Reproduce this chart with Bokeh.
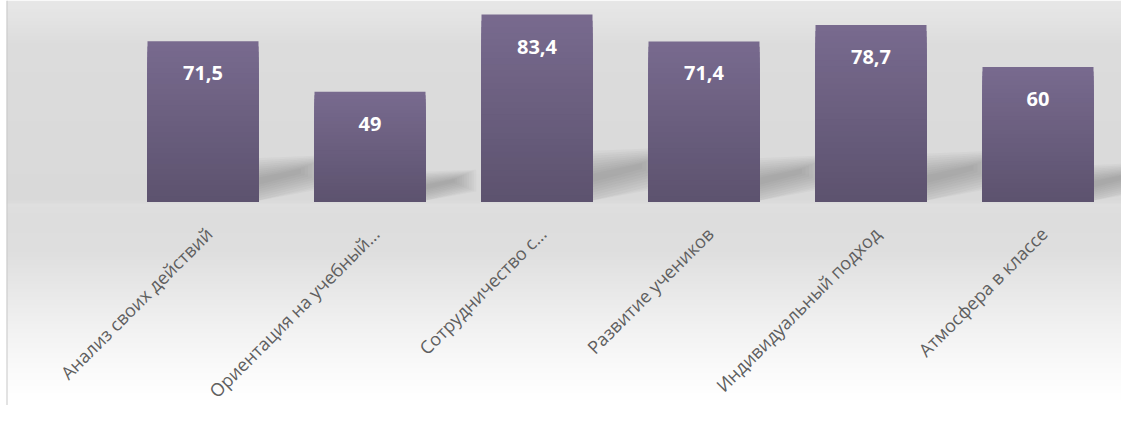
import math
import numpy as np
from bokeh.plotting import figure
from bokeh.models import Range1d, ColumnDataSource, Span
from bokeh.core.properties import value
from bokeh.embed import file_html
from bokeh.resources import INLINE

# ---- data ----
categories = ["Анализ своих действий", "Ориентация на учебный...", "Сотрудничество с...",
              "Развитие учеников", "Индивидуальный подход", "Атмосфера в классе"]
values = [71.5, 49, 83.4, 71.4, 78.7, 60]
value_labels = [f"{v:g}".replace(".", ",") for v in values]

# ---- geometry ----
W, H = 1121, 405
FRAME_LEFT = 6
PX_X = 167.0          # pixels per category
PX_Y = 2.2422         # pixels per value unit
first_center_px = 202.5 - FRAME_LEFT
baseline_px = 201
frame_w = W - FRAME_LEFT
x_start = -first_center_px / PX_X
x_end = x_start + frame_w / PX_X
y_end = baseline_px / PX_Y
y_start = -(H - baseline_px) / PX_Y

p = figure(width=W, height=H, output_backend="svg", toolbar_location=None,
           x_range=Range1d(x_start, x_end), y_range=Range1d(y_start, y_end),
           min_border=0, min_border_left=FRAME_LEFT)
p.border_fill_color = "white"
p.background_fill_color = "white"
p.outline_line_color = None
p.grid.visible = False
p.xaxis.visible = False
p.yaxis.visible = False

# ---- background gradient (styling) ----
stops_y = [0, 15, 45, 198, 201, 204, 215, 250, 290, 330, 370, 395, 405]
stops_g = [231, 228, 220, 217, 218, 223, 221, 222, 232, 242, 250, 254, 255]
rows = np.arange(H)
g = np.interp(rows + 0.5, stops_y, stops_g).round().astype(int)
bg = ColumnDataSource(dict(
    top=[y_end - r / PX_Y for r in rows],
    bottom=[y_end - (r + 1.6) / PX_Y for r in rows],
    color=["#%02x%02x%02x" % (v, v, v) for v in g],
))
p.quad(left=x_start, right=x_end, top="top", bottom="bottom", source=bg,
       fill_color="color", line_color=None)
p.add_layout(Span(location=x_start, dimension="height", line_color="#c8c8c8", line_width=2))

idx = list(range(len(values)))
HW = 0.3323

# ---- shadows ----
layers = 10
for s in np.linspace(1.0, 0.15, layers):
    xs, ys = [], []
    for i, h in zip(idx, values):
        xr = i + HW
        L = h * 0.0062 * (0.5 + 0.5 * s)
        cl, cr = 0.12 * h, 0.19 * h
        tl, tr = 0.15 * h * s, 0.10 * h * s
        xs.append([xr - 0.03, xr - 0.03, xr + L, xr + L])
        ys.append([max(cl - tl, 0.0), cl + tl, cr + tr, max(cr - tr, 0.0)])
    p.patches(xs=xs, ys=ys, fill_color="#5a5a5a", fill_alpha=0.045, line_color=None)

# ---- bars with vertical gradient ----
top_c = np.array([0x78, 0x6a, 0x8e])
bot_c = np.array([0x5c, 0x52, 0x6e])
N = 30
for k in range(N):
    f = 1 - k / N
    c = (bot_c + (top_c - bot_c) * f).round().astype(int)
    p.vbar(x=idx, width=2 * HW, top=[h * f for h in values], bottom=0,
           fill_color="#%02x%02x%02x" % tuple(c), line_color=None)

# ---- value labels ----
p.text(x=idx, y=values, text=value_labels, y_offset=32,
       text_align="center", text_baseline="middle", text_color="white",
       text_font=value("Open Sans"), text_font_style="bold", text_font_size="20px")

# ---- category labels (rotated, anchored under each bar) ----
p.text(x=idx, y=[0] * len(idx), text=categories, angle=math.pi / 4,
       x_offset=6, y_offset=29, text_align="right", text_baseline="middle",
       text_color="#5f5f5f", text_font=value("Open Sans"), text_font_size="18px")

open("out.html", "w").write(file_html(p, INLINE))
